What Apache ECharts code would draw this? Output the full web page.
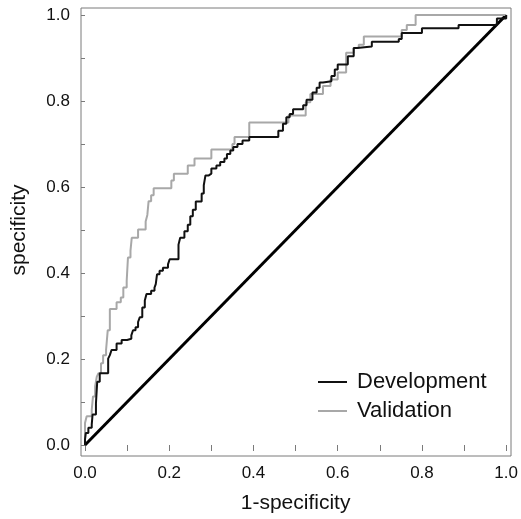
<!DOCTYPE html>
<html lang="en">
<head>
    <meta charset="UTF-8">
    <title>ROC</title>
    <script src="https://cdn.jsdelivr.net/npm/echarts@6/dist/echarts.min.js"></script>
    <style>
        html, body { margin: 0; padding: 0; background: #fff; }
    </style>
</head>
<body>
<div id="roc_chart" style="width: 521px;height:519px"></div>
<script>
    // values
    var devX = [0, 0, 0.002, 0.008, 0.016, 0.018, 0.026, 0.029, 0.035, 0.055, 0.059, 0.063, 0.075, 0.087, 0.100, 0.110,
        0.114, 0.120, 0.126, 0.130, 0.136, 0.142, 0.146, 0.157, 0.165, 0.168, 0.171, 0.177, 0.185, 0.197, 0.201, 0.222,
        0.226, 0.236, 0.244, 0.250, 0.256, 0.263, 0.277, 0.282, 0.286, 0.294, 0.300, 0.312, 0.321, 0.331, 0.337, 0.345,
        0.352, 0.362, 0.374, 0.390, 0.459, 0.470, 0.478, 0.486, 0.494, 0.518, 0.526, 0.540, 0.550, 0.557, 0.565, 0.585,
        0.593, 0.600, 0.624, 0.638, 0.646, 0.681, 0.745, 0.752, 0.800, 0.887, 0.978, 1.0];
    var devY = [0, 0.013, 0.028, 0.040, 0.048, 0.071, 0.097, 0.147, 0.167, 0.201, 0.209, 0.221, 0.236, 0.244, 0.247, 0.255,
        0.267, 0.274, 0.286, 0.297, 0.320, 0.336, 0.351, 0.359, 0.366, 0.374, 0.397, 0.405, 0.412, 0.420, 0.432, 0.466,
        0.482, 0.497, 0.512, 0.532, 0.547, 0.566, 0.585, 0.604, 0.627, 0.631, 0.643, 0.650, 0.658, 0.666, 0.677, 0.685,
        0.693, 0.700, 0.708, 0.716, 0.731, 0.747, 0.762, 0.770, 0.781, 0.790, 0.803, 0.820, 0.831, 0.843, 0.846, 0.858,
        0.873, 0.885, 0.904, 0.923, 0.927, 0.938, 0.944, 0.958, 0.969, 0.977, 0.992, 1.0];

    var valX = [0, 0, 0.004, 0.016, 0.019, 0.024, 0.028, 0.032, 0.038, 0.043, 0.050, 0.054, 0.059, 0.075, 0.085, 0.091,
        0.099, 0.102, 0.108, 0.111, 0.126, 0.144, 0.148, 0.151, 0.157, 0.163, 0.205, 0.211, 0.244, 0.260, 0.300, 0.350,
        0.355, 0.390, 0.483, 0.524, 0.535, 0.565, 0.583, 0.600, 0.620, 0.638, 0.650, 0.662, 0.752, 0.764, 0.785, 1.0];
    var valY = [0, 0.051, 0.067, 0.082, 0.113, 0.136, 0.159, 0.167, 0.190, 0.209, 0.221, 0.267, 0.316, 0.332, 0.343, 0.366,
        0.382, 0.436, 0.452, 0.482, 0.501, 0.520, 0.535, 0.567, 0.581, 0.597, 0.615, 0.631, 0.650, 0.666, 0.687, 0.700,
        0.716, 0.750, 0.766, 0.797, 0.816, 0.835, 0.850, 0.866, 0.912, 0.923, 0.931, 0.950, 0.965, 0.977, 1.0, 1.0];

    var refX = [0, 1];
    var refY = [0, 1];

    var tickLabels = ['0.0', '0.2', '0.4', '0.6', '0.8', '1.0'];
    var seriesNames = ['Development', 'Validation'];

    function pairs(xs, ys) {
        var out = [];
        for (var i = 0; i < Math.min(xs.length, ys.length); i++) {
            out.push([xs[i], ys[i]]);
        }
        return out;
    }

    function tickFmt(v) {
        var s = v.toFixed(1);
        return tickLabels.indexOf(s) >= 0 ? s : '';
    }

    var font = "'Liberation Sans', Arial, sans-serif";
    var roc_chart = echarts.init(document.getElementById('roc_chart'));

    var option = {
        backgroundColor: '#fff',
        animation: false,
        legend: {
            orient: 'vertical',
            left: 313,
            top: 366,
            itemWidth: 29,
            itemHeight: 2,
            itemGap: 7,
            icon: 'rect',
            textStyle: {
                fontFamily: font,
                fontSize: 22,
                color: '#111',
                padding: [0, 0, 0, 5]
            },
            data: seriesNames
        },
        grid: [{
            // the box
            left: 81, top: 8, width: 430, height: 448,
            show: true,
            borderColor: '#7a7a7a',
            borderWidth: 1
        }, {
            // data area
            left: 85, top: 15, width: 423, height: 434
        }],
        xAxis: [{
            gridIndex: 0, type: 'value', min: 0, max: 1, show: false
        }, {
            gridIndex: 1,
            type: 'value',
            min: 0,
            max: 1,
            interval: 0.1,
            offset: 7,
            name: '1-specificity',
            nameLocation: 'middle',
            nameGap: 41,
            nameTextStyle: { fontFamily: font, fontSize: 21, color: '#111' },
            axisLine: { show: false },
            axisTick: { show: true, length: 6, lineStyle: { color: '#7a7a7a' } },
            axisLabel: {
                margin: 13, fontFamily: font, fontSize: 17, color: '#111',
                formatter: tickFmt
            },
            splitLine: { show: false }
        }],
        yAxis: [{
            gridIndex: 0, type: 'value', min: 0, max: 1, show: false
        }, {
            gridIndex: 1,
            type: 'value',
            min: 0,
            max: 1,
            interval: 0.1,
            offset: 4,
            name: 'specificity',
            nameLocation: 'middle',
            nameGap: 51,
            nameTextStyle: { fontFamily: font, fontSize: 21, color: '#111' },
            axisLine: { show: false },
            axisTick: { show: true, length: 4, lineStyle: { color: '#7a7a7a' } },
            axisLabel: {
                margin: 11, fontFamily: font, fontSize: 17, color: '#111',
                formatter: tickFmt
            },
            splitLine: { show: false }
        }],
        series: [{
            name: 'reference',
            type: 'line',
            xAxisIndex: 1,
            yAxisIndex: 1,
            showSymbol: false,
            clip: false,
            lineStyle: { color: '#000', width: 3 },
            data: pairs(refX, refY)
        }, {
            name: seriesNames[1],
            type: 'line',
            xAxisIndex: 1,
            yAxisIndex: 1,
            step: 'end',
            showSymbol: false,
            clip: false,
            color: '#a8a8a8',
            lineStyle: { color: '#a8a8a8', width: 2 },
            data: pairs(valX, valY)
        }, {
            name: seriesNames[0],
            type: 'line',
            xAxisIndex: 1,
            yAxisIndex: 1,
            step: 'end',
            showSymbol: false,
            clip: false,
            color: '#111',
            lineStyle: { color: '#111', width: 2 },
            data: pairs(devX, devY)
        }]
    };
    roc_chart.setOption(option);
</script>
</body>
</html>
